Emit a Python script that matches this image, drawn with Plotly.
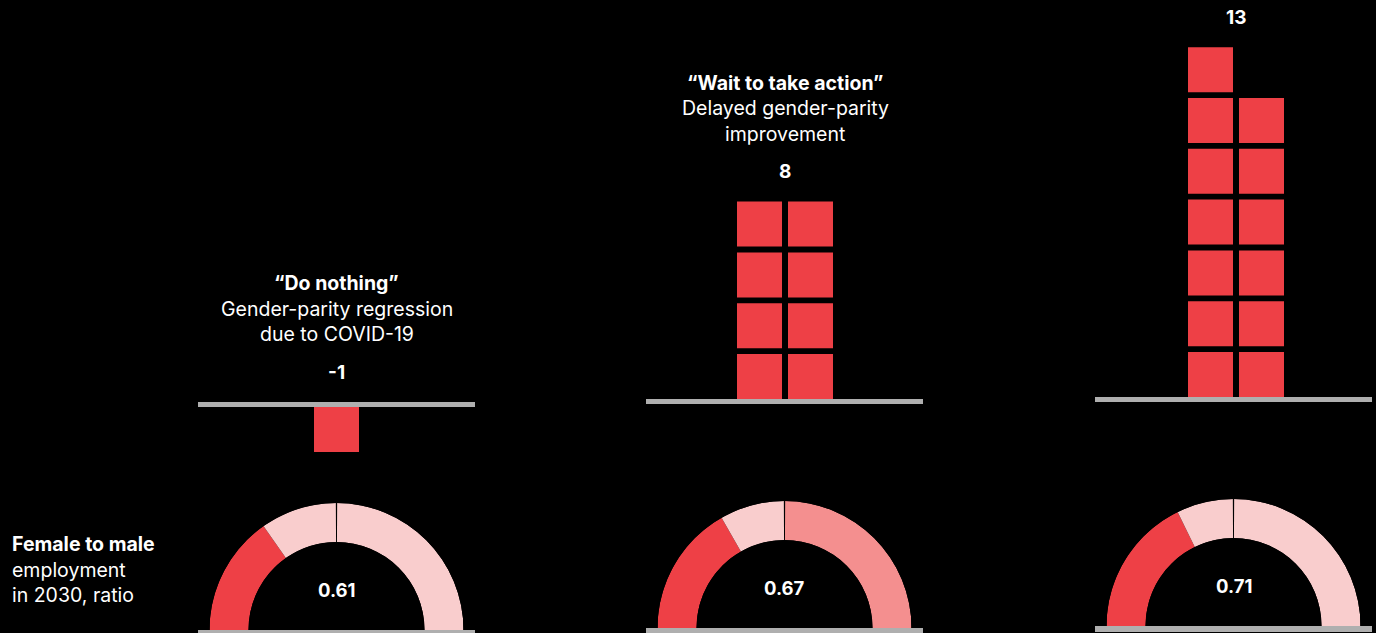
import math
import plotly.graph_objects as go

# ---------------- data ----------------
scenario_titles = ["“Do nothing”", "“Wait to take action”", ""]
scenario_subtitles = [["Gender-parity regression", "due to COVID-19"],
                      ["Delayed gender-parity", "improvement"],
                      []]
values = [-1, 8, 13]
value_labels = ["-1", "8", "13"]
ratios = [0.61, 0.67, 0.71]
ratio_labels = ["0.61", "0.67", "0.71"]
right_colors = ["#F9CDCD", "#F48F8F", "#F9CDCD"]
side_label = ["<b>Female to male</b>", "employment", "in 2030, ratio"]

# ---------------- styling / layout ----------------
W, H = 1376, 633
RED = "#EE4046"
PINK = "#F9CDCD"
GRAY = "#AFAFAF"
FONT = "Inter"
panel_left = [198, 646, 1095]
panel_width = 277
stack_cx = [336.5, 785, 1236]
line_top = [402, 399, 397]
gauge_cy = [630, 628, 626]
R_OUT, R_IN = 127, 88
PX, PY = 51, 50.8      # pixels per square step
SQ = 45
LINE_W = 5

fig = go.Figure()
annotations = []
shapes = []

for i, v in enumerate(values):
    ax = "" if i == 0 else str(i + 1)
    xa, ya = "x" + ax, "y" + ax
    n = abs(v)
    ncols = 1 if n == 1 else 2
    xs, ys = [], []
    for k in range(n):
        row, col = divmod(k, ncols)
        xs.append(0 if ncols == 1 else (col - 0.5))
        if v > 0:
            ys.append((row * PY + SQ / 2) / PY)
        else:
            ys.append(-(LINE_W + row * PY + SQ / 2) / PY)
    fig.add_trace(go.Scatter(
        x=xs, y=ys, mode="markers", xaxis=xa, yaxis=ya,
        marker=dict(symbol="square", size=SQ, color=RED, line=dict(width=0)),
        hoverinfo="skip", showlegend=False))

    x0 = panel_left[i] / W
    x1 = (panel_left[i] + panel_width) / W
    lo = (panel_left[i] - stack_cx[i]) / PX
    hi = (panel_left[i] + panel_width - stack_cx[i]) / PX
    lay_x = dict(domain=[x0, x1], range=[lo, hi], visible=False, fixedrange=True)
    lay_y = dict(domain=[0, 1], range=[-(H - line_top[i]) / PY, line_top[i] / PY],
                 visible=False, fixedrange=True)
    if i > 0:
        lay_x["anchor"] = ya
        lay_y["anchor"] = xa
    fig.update_layout(**{"xaxis" + ax: lay_x, "yaxis" + ax: lay_y})

    # baselines
    shapes.append(dict(type="rect", xref=xa + " domain", yref=ya, x0=0, x1=1,
                       y0=-LINE_W / PY, y1=0, fillcolor=GRAY, line=dict(width=0), layer="above"))
    gy = -(gauge_cy[i] - line_top[i]) / PY
    shapes.append(dict(type="rect", xref=xa + " domain", yref=ya, x0=0, x1=1,
                       y0=gy - 6 / PY, y1=gy, fillcolor=GRAY, line=dict(width=0), layer="above"))

    # labels above stack
    rows = math.ceil(n / ncols)
    top = ((rows - 1) * PY + SQ) / PY if v > 0 else 0
    annotations.append(dict(xref=xa, yref=ya, x=0, y=top, yshift=30, text="<b>%s</b>" % value_labels[i],
                            showarrow=False, xanchor="center", yanchor="middle",
                            font=dict(size=19, color="white", family=FONT)))
    lines = ([("<b>%s</b>" % scenario_titles[i])] if scenario_titles[i] else []) + scenario_subtitles[i]
    for j, t in enumerate(reversed(lines)):
        annotations.append(dict(xref=xa, yref=ya, x=0, y=top, yshift=68 + 25.5 * j, text=t,
                                showarrow=False, xanchor="center", yanchor="middle",
                                font=dict(size=19.5, color="white", family=FONT)))

    # gauge
    cx = panel_left[i] + panel_width / 2
    pol = "polar" + ax
    r = ratios[i]
    thetas = [180 - 45 * r, 135 - 45 * r, 45, 90]
    widths = [90 * r, 90 - 90 * r, 90, 0.6]
    colors = [RED, PINK, right_colors[i], "black"]
    fig.add_trace(go.Barpolar(r=[1, 1, 1, 1], theta=thetas, width=widths, subplot=pol,
                              marker=dict(color=colors, line=dict(width=0)),
                              hoverinfo="skip", showlegend=False))
    fig.update_layout(**{pol: dict(
        domain=dict(x=[(cx - R_OUT) / W, (cx + R_OUT) / W],
                    y=[(H - gauge_cy[i]) / H, (H - gauge_cy[i] + R_OUT) / H]),
        sector=[0, 180], hole=R_IN / R_OUT, bgcolor="black",
        angularaxis=dict(visible=False, rotation=0, direction="counterclockwise"),
        radialaxis=dict(visible=False, range=[0, 1]))})
    annotations.append(dict(xref="paper", yref="paper", x=cx / W, y=(H - gauge_cy[i] + 40) / H,
                            text="<b>%s</b>" % ratio_labels[i], showarrow=False,
                            xanchor="center", yanchor="middle",
                            font=dict(size=18.5, color="white", family=FONT)))

for j, t in enumerate(side_label):
    annotations.append(dict(xref="paper", yref="paper", x=10 / W, xanchor="left",
                            y=(H - 544 - 25.5 * j) / H, yanchor="middle", text=t, showarrow=False,
                            font=dict(size=19.5, color="white", family=FONT)))

fig.update_layout(width=W, height=H, margin=dict(l=0, r=0, t=0, b=0),
                  paper_bgcolor="black", plot_bgcolor="black",
                  annotations=annotations, shapes=shapes, showlegend=False)
fig.write_html("out.html", config={"displayModeBar": False})
